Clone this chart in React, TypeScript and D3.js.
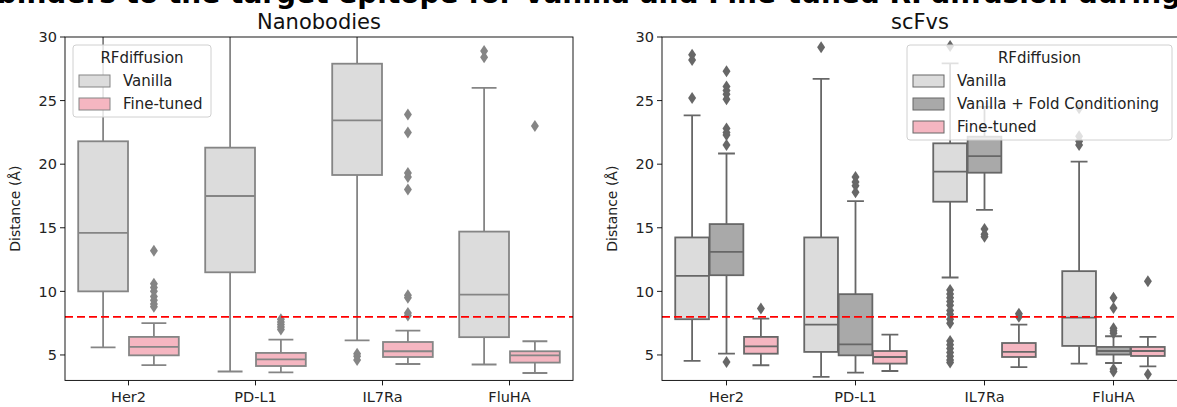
import React from "react";
import * as d3 from "d3";

const categories = ["Her2", "PD-L1", "IL7Ra", "FluHA"];
const yTicks = [5, 10, 15, 20, 25, 30];
const threshold = 8;
const chartTitle = "Distance of designed binders to the target epitope for Vanilla and Fine-tuned RFdiffusion during targeting generation";

// per category: [whiskerLow, q1, median, q3, whiskerHigh]
const nbVanilla = [[5.6, 10.0, 14.6, 21.8, 38], [3.7, 11.5, 17.5, 21.3, 40], [6.15, 19.15, 23.45, 27.9, 36], [4.25, 6.4, 9.75, 14.7, 26.0]];
const nbFineTuned = [[4.2, 4.97, 5.63, 6.42, 7.5], [3.63, 4.13, 4.66, 5.16, 6.2], [4.29, 4.84, 5.29, 6.02, 6.92], [3.58, 4.4, 4.97, 5.29, 6.08]];
const nbVanillaOut = [[], [], [5.1, 4.9, 4.6], [28.9, 28.4]];
const nbFineTunedOut = [[13.2, 10.6, 10.3, 10.0, 9.6, 9.3, 9.0, 8.8], [7.8, 7.6, 7.4, 7.2, 7.0], [23.9, 22.5, 19.3, 19.0, 18.0, 9.7, 9.5, 8.3, 8.1], [23.0]];

const scVanilla = [[4.53, 7.81, 11.22, 14.24, 23.84], [3.27, 5.24, 7.39, 14.24, 26.7], [11.09, 17.05, 19.41, 21.64, 27.93], [4.32, 5.71, 7.94, 11.59, 20.2]];
const scFold = [[5.1, 11.27, 13.11, 15.29, 20.84], [3.61, 4.97, 5.84, 9.78, 17.1], [16.4, 19.33, 20.64, 22.16, 24.5], [4.37, 5.03, 5.31, 5.63, 6.47]];
const scFineTuned = [[4.19, 5.1, 5.68, 6.42, 7.86], [3.74, 4.32, 4.84, 5.31, 6.6], [4.05, 4.84, 5.24, 5.94, 7.39], [4.1, 4.92, 5.31, 5.63, 6.42]];
const scVanillaOut = [[28.6, 28.2, 25.2], [29.2], [29.3, 10.1, 9.8, 9.5, 9.2, 8.9, 8.5, 8.2, 7.8, 7.5, 6.1, 5.8, 5.5, 5.2, 4.9, 4.6, 4.4], [24.4, 22.2, 21.8, 21.5]];
const scFoldOut = [[27.3, 26.1, 25.8, 25.5, 25.1, 22.8, 22.5, 22.3, 21.5, 4.45], [19.0, 18.6, 18.3, 17.8], [14.9, 14.5, 14.3], [9.5, 8.7, 7.1, 6.9, 6.7, 3.9, 3.7]];
const scFineTunedOut = [[8.65], [], [8.25, 8.0], [10.8, 3.48]];

const C_VAN = "#dcdcdc";
const C_FOLD = "#a9a9a9";
const C_FT = "#f5b6c1";
const FONT = "DejaVu Sans, sans-serif";

type Series = { name: string; color: string; stats: number[][]; out: number[][] };

function Panel({ id, x0, x1, title, series, lineColor }: { id: string; x0: number; x1: number; title: string; series: Series[]; lineColor: string }) {
  const y0 = 37, y1 = 380.4;
  const x = d3.scaleBand<string>().domain(categories).range([x0, x1]).padding(0);
  const y = d3.scaleLinear().domain([3, 30]).range([y1, y0]);
  const bw = x.bandwidth();
  const n = series.length;
  const each = (0.8 * bw) / n;
  const boxW = each * 0.98;
  const lw = 1.8;
  const diamond = "M0,-6L4,0L0,6L-4,0Z";
  const cx = (x0 + x1) / 2;
  const legendW = n === 2 ? 138 : 265;
  const legendH = n === 2 ? 72 : 95;
  const lx = n === 2 ? x0 + 8 : x1 - 6 - legendW;
  const ly = 45;
  return (
    <g>
      <defs>
        <clipPath id={id}>
          <rect x={x0} y={y0} width={x1 - x0} height={y1 - y0} />
        </clipPath>
      </defs>
      <g clipPath={`url(#${id})`}>
        {categories.map((c, ci) =>
          series.map((s, si) => {
            const center = (x(c) as number) + bw / 2 + (si - (n - 1) / 2) * each;
            const [lo, q1, med, q3, hi] = s.stats[ci];
            const capW = boxW * 0.5;
            return (
              <g key={c + si}>
                <line x1={center} x2={center} y1={y(q3)} y2={y(hi)} stroke={lineColor} strokeWidth={lw} />
                <line x1={center} x2={center} y1={y(q1)} y2={y(lo)} stroke={lineColor} strokeWidth={lw} />
                <line x1={center - capW / 2} x2={center + capW / 2} y1={y(hi)} y2={y(hi)} stroke={lineColor} strokeWidth={lw} />
                <line x1={center - capW / 2} x2={center + capW / 2} y1={y(lo)} y2={y(lo)} stroke={lineColor} strokeWidth={lw} />
                <rect x={center - boxW / 2} y={y(q3)} width={boxW} height={y(q1) - y(q3)} fill={s.color} stroke={lineColor} strokeWidth={lw} />
                <line x1={center - boxW / 2} x2={center + boxW / 2} y1={y(med)} y2={y(med)} stroke={lineColor} strokeWidth={lw} />
                {s.out[ci].map((v, k) => (
                  <path key={k} d={diamond} transform={`translate(${center},${y(v)})`} fill={lineColor} />
                ))}
              </g>
            );
          })
        )}
        <line x1={x0} x2={x1} y1={y(threshold)} y2={y(threshold)} stroke="#ff0000" strokeWidth={1.8} strokeDasharray="8,4" />
      </g>
      <rect x={x0} y={y0} width={x1 - x0} height={y1 - y0} fill="none" stroke="#000" strokeWidth={0.9} />
      {yTicks.map((t) => (
        <g key={t}>
          <line x1={x0 - 5} x2={x0} y1={y(t)} y2={y(t)} stroke="#000" strokeWidth={0.9} />
          <text x={x0 - 8} y={y(t)} dy="0.36em" textAnchor="end" fontSize={14.5} fontFamily={FONT} fill="#222">{t}</text>
        </g>
      ))}
      {categories.map((c) => {
        const px = (x(c) as number) + bw / 2;
        return (
          <g key={c}>
            <line x1={px} x2={px} y1={y1} y2={y1 + 5} stroke="#000" strokeWidth={0.9} />
            <text x={px} y={y1 + 22} textAnchor="middle" fontSize={14.5} fontFamily={FONT} fill="#222">{c}</text>
          </g>
        );
      })}
      <text transform={`translate(${x0 - 45},${(y0 + y1) / 2}) rotate(-90)`} textAnchor="middle" fontSize={14} fontFamily={FONT} fill="#222">Distance (Å)</text>
      <text x={cx} y={29} textAnchor="middle" fontSize={21} fontFamily={FONT} fill="#111">{title}</text>
      <g>
        <rect x={lx} y={ly} width={legendW} height={legendH} rx={3} fill="#fff" fillOpacity={0.8} stroke="#d0d0d0" strokeWidth={1} />
        <text x={lx + legendW / 2} y={ly + 18} textAnchor="middle" fontSize={15} fontFamily={FONT} fill="#222">RFdiffusion</text>
        {series.map((s, si) => (
          <g key={s.name}>
            <rect x={lx + 6} y={ly + 30 + si * 23} width={31} height={12} fill={s.color} stroke={lineColor} strokeWidth={1} />
            <text x={lx + 50} y={ly + 41 + si * 23} fontSize={15} fontFamily={FONT} fill="#222">{s.name}</text>
          </g>
        ))}
      </g>
    </g>
  );
}

export default function App() {
  const nbSeries: Series[] = [
    { name: "Vanilla", color: C_VAN, stats: nbVanilla, out: nbVanillaOut },
    { name: "Fine-tuned", color: C_FT, stats: nbFineTuned, out: nbFineTunedOut },
  ];
  const scSeries: Series[] = [
    { name: "Vanilla", color: C_VAN, stats: scVanilla, out: scVanillaOut },
    { name: "Vanilla + Fold Conditioning", color: C_FOLD, stats: scFold, out: scFoldOut },
    { name: "Fine-tuned", color: C_FT, stats: scFineTuned, out: scFineTunedOut },
  ];
  return (
    <svg width={1177} height={407} style={{ position: "fixed", left: 0, top: 0, background: "#fff" }}>
      <rect width={1177} height={407} fill="#fff" />
      <text x={588} y={3} textAnchor="middle" fontSize={28} fontWeight="bold" fontFamily={FONT} fill="#000">{chartTitle}</text>
      <Panel id="clipA" x0={65} x1={573} title="Nanobodies" series={nbSeries} lineColor="#858585" />
      <Panel id="clipB" x0={662} x1={1178} title="scFvs" series={scSeries} lineColor="#676767" />
    </svg>
  );
}
